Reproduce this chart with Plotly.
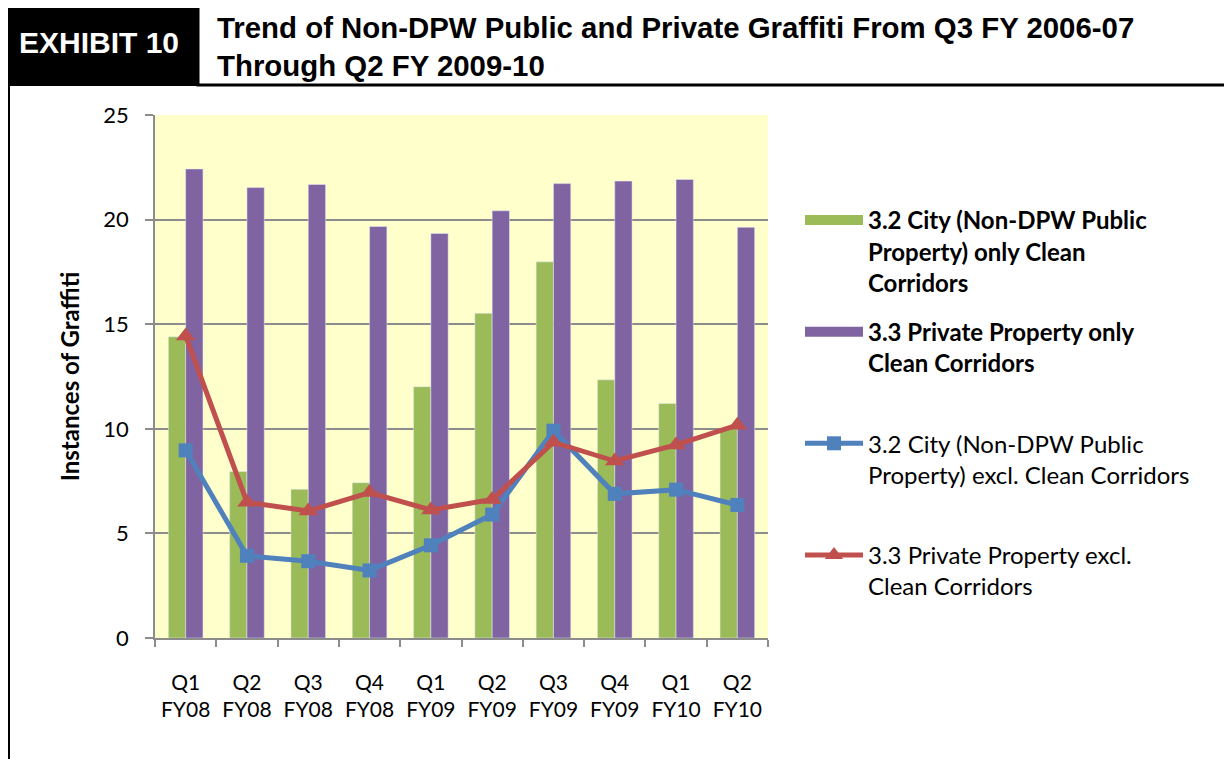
import plotly.graph_objects as go

categories = ["Q1<br>FY08", "Q2<br>FY08", "Q3<br>FY08", "Q4<br>FY08", "Q1<br>FY09",
              "Q2<br>FY09", "Q3<br>FY09", "Q4<br>FY09", "Q1<br>FY10", "Q2<br>FY10"]
city_cc = [14.4, 7.96, 7.11, 7.42, 12.01, 15.52, 17.98, 12.34, 11.21, 10.0]
private_cc = [22.42, 21.53, 21.68, 19.67, 19.34, 20.42, 21.72, 21.84, 21.92, 19.63]
city_excl = [8.97, 3.93, 3.67, 3.23, 4.43, 5.9, 9.91, 6.89, 7.09, 6.36]
private_excl = [14.44, 6.49, 6.07, 6.95, 6.12, 6.62, 9.36, 8.46, 9.23, 10.17]
y_ticks = [0, 5, 10, 15, 20, 25]

name_city_cc = "<b>3.2 City (Non-DPW Public<br>Property) only Clean<br>Corridors</b>"
name_private_cc = "<b>3.3 Private Property only<br>Clean Corridors</b><br> "
name_city_excl = "3.2 City (Non-DPW Public<br>Property) excl. Clean Corridors<br> "
name_private_excl = "3.3 Private Property excl.<br>Clean Corridors"

GREEN, PURPLE, BLUE, RED = "#9BBB59", "#8064A2", "#4F81BD", "#C0504D"
GRID = "#8C8C8C"

OFF = 8  # page body margin
W, H = 1232 - OFF, 759 - OFF
L, R, T, B = 155 - OFF, 768 - OFF, 115 - OFF, 638 - OFF


def px(x):
    return (x - OFF - L) / (R - L)


def py(y):
    return (B - (y - OFF)) / (B - T)


fig = go.Figure()
fig.add_trace(go.Bar(x=categories, y=city_cc, marker_color=GREEN, showlegend=False,
                     name="city_cc"))
fig.add_trace(go.Bar(x=categories, y=private_cc, marker_color=PURPLE, showlegend=False,
                     name="private_cc"))
fig.add_trace(go.Scatter(x=categories, y=city_excl, mode="lines+markers",
                         line=dict(color=BLUE, width=5),
                         marker=dict(symbol="square", size=14, color=BLUE),
                         showlegend=False))
fig.add_trace(go.Scatter(x=categories, y=private_excl, mode="lines+markers",
                         line=dict(color=RED, width=5),
                         marker=dict(symbol="triangle-up", size=17, color=RED),
                         showlegend=False))

# legend entries
fig.add_trace(go.Scatter(x=[None], y=[None], mode="lines", name=name_city_cc,
                         line=dict(color=GREEN, width=14), legendgroup="a"))
fig.add_trace(go.Scatter(x=[None], y=[None], mode="lines", name=name_private_cc,
                         line=dict(color=PURPLE, width=14), legendgroup="b"))
fig.add_trace(go.Scatter(x=[None], y=[None], mode="lines+markers", name=name_city_excl,
                         line=dict(color=BLUE, width=5),
                         marker=dict(symbol="square", size=14, color=BLUE), legendgroup="c"))
fig.add_trace(go.Scatter(x=[None], y=[None], mode="lines+markers", name=name_private_excl,
                         line=dict(color=RED, width=5),
                         marker=dict(symbol="triangle-up", size=16, color=RED), legendgroup="d"))

shapes = [
    dict(type="rect", xref="paper", yref="paper", x0=px(-20), x1=px(198), y0=py(86), y1=py(-20),
         fillcolor="black", line=dict(width=0), layer="below"),
    dict(type="rect", xref="paper", yref="paper", x0=px(198), x1=px(1240), y0=py(85), y1=py(2),
         fillcolor="white", line=dict(color="black", width=3), layer="below"),
    dict(type="line", xref="paper", yref="paper", x0=px(9), x1=px(9), y0=py(86), y1=py(770),
         line=dict(color="black", width=2)),
]

annotations = [
    dict(text="<b>EXHIBIT 10</b>", xref="paper", yref="paper", x=px(99), y=py(43),
         xanchor="center", yanchor="middle", showarrow=False,
         font=dict(family="Liberation Sans, Arial", size=30, color="white")),
    dict(text="<b>Trend of Non-DPW Public and Private Graffiti From Q3 FY 2006-07<br>"
              "Through Q2 FY 2009-10</b>",
         xref="paper", yref="paper", x=px(215), y=py(8.5), xanchor="left", yanchor="top",
         align="left", showarrow=False,
         font=dict(family="Liberation Sans, Arial", size=29.4, color="black")),
]

fig.update_layout(
    width=W, height=H,
    margin=dict(l=L, r=W - R, t=T, b=H - B, autoexpand=False),
    paper_bgcolor="white", plot_bgcolor="#FFFFCC",
    barmode="group", bargap=0.435, bargroupgap=0,
    font=dict(family="Lato, Carlito, Calibri, sans-serif", color="black", size=19),
    shapes=shapes, annotations=annotations,
    legend=dict(x=px(800), y=py(198), xanchor="left", yanchor="top",
                font=dict(size=24, family="Lato, Carlito, Calibri, sans-serif"),
                valign="top", itemwidth=58, tracegroupgap=15, traceorder="grouped",
                bgcolor="rgba(0,0,0,0)"),
    xaxis=dict(type="category", range=[-0.5, len(categories) - 0.5], autorange=False,
               tickson="boundaries", ticks="outside", ticklen=7,
               tickcolor=GRID, tickwidth=1.5, showline=True, linecolor=GRID, linewidth=1.5,
               showgrid=False, ticklabelstandoff=25, tickfont=dict(size=21)),
    yaxis=dict(range=[0, 25], tickvals=y_ticks, ticks="outside", ticklen=8, tickcolor=GRID,
               tickwidth=1.5, showline=True, linecolor=GRID, linewidth=1.5,
               showgrid=True, gridcolor=GRID, gridwidth=1.5, zeroline=False,
               ticklabelstandoff=12, tickfont=dict(size=22),
               title=dict(text="<b>Instances of Graffiti</b>", font=dict(size=24), standoff=17)),
)

fig.write_html("out.html")
